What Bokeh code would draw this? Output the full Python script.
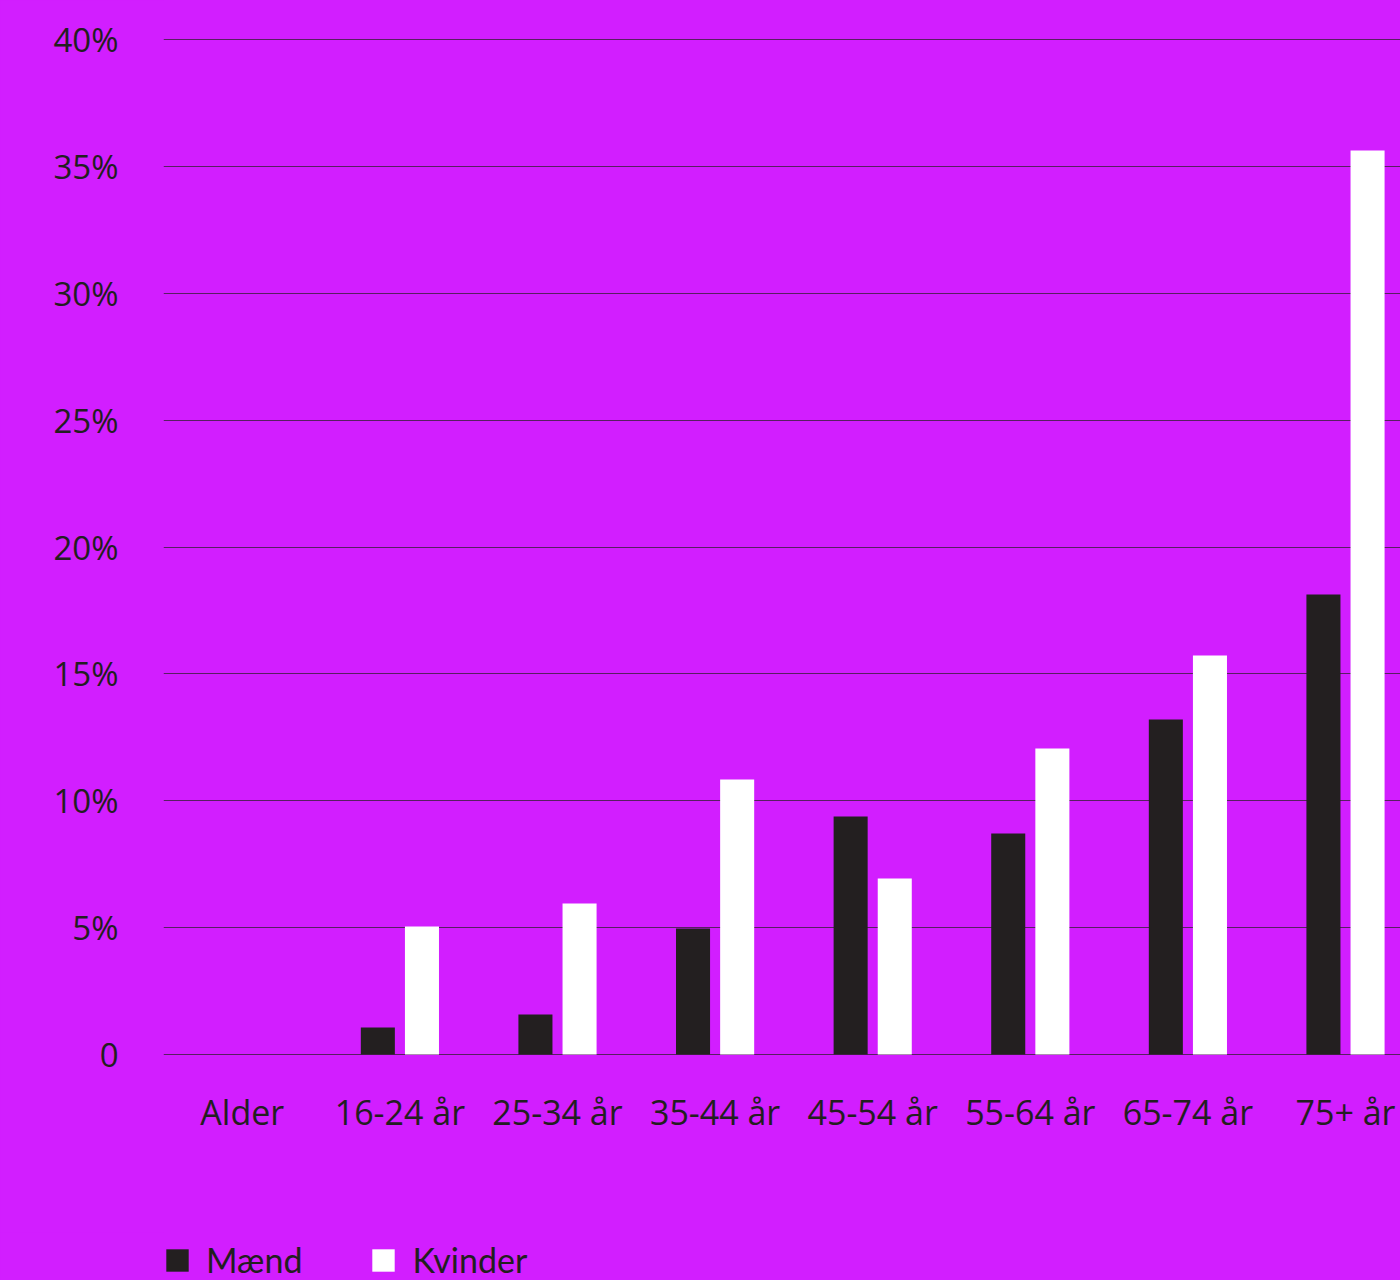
from bokeh.plotting import figure
from bokeh.layouts import column
from bokeh.models import ColumnDataSource, Range1d, FixedTicker, Legend, LegendItem
from bokeh.embed import file_html
from bokeh.resources import INLINE

# ---- data ----
categories = ["Alder", "16-24 år", "25-34 år", "35-44 år", "45-54 år", "55-64 år", "65-74 år", "75+ år"]
maend = [None, 1.06, 1.58, 4.97, 9.38, 8.71, 13.2, 18.13]
kvinder = [None, 5.04, 5.95, 10.84, 6.94, 12.06, 15.72, 35.63]
y_ticks = [0, 5, 10, 15, 20, 25, 30, 35, 40]
y_labels = ["0", "5%", "10%", "15%", "20%", "25%", "30%", "35%", "40%"]
series_names = ["Mænd", "Kvinder"]

BG = "#D21EFF"
DARK = "#231F20"
FONT = "Open Sans"
COLORS = [DARK, "white"]

pos = [i for i, v in enumerate(maend) if v is not None]
src = ColumnDataSource(data=dict(
    xm=[i - 0.14 for i in pos],
    xk=[i + 0.14 for i in pos],
    m=[maend[i] for i in pos],
    k=[kvinder[i] for i in pos],
))

MAIN_H = 1232
LEFT = 163
p = figure(width=1400, height=MAIN_H, output_backend="svg", toolbar_location=None,
           x_range=Range1d(-0.5, 7.349), y_range=Range1d(-0.197, 41.537),
           min_border_left=LEFT, min_border_right=0, min_border_top=0,
           min_border_bottom=MAIN_H - 1059)
p.background_fill_color = BG
p.border_fill_color = BG
p.outline_line_color = None

p.vbar(x="xm", top="m", bottom=0, width=0.216, source=src, fill_color=COLORS[0], line_color=None)
p.vbar(x="xk", top="k", bottom=0, width=0.216, source=src, fill_color=COLORS[1], line_color=None)

# x axis
p.xaxis.ticker = FixedTicker(ticks=list(range(len(categories))))
p.xaxis.major_label_overrides = {i: c for i, c in enumerate(categories)}
p.xaxis.axis_line_color = None
p.xaxis.major_tick_line_color = None
p.xaxis.minor_tick_line_color = None
p.xaxis.major_tick_out = 0
p.xaxis.minor_tick_out = 0
p.xaxis.major_label_standoff = 29
p.xaxis.major_label_text_font = FONT
p.xaxis.major_label_text_font_size = "34px"
p.xaxis.major_label_text_color = DARK
p.xgrid.visible = False

# y axis
p.yaxis.ticker = FixedTicker(ticks=y_ticks)
p.yaxis.major_label_overrides = {t: l for t, l in zip(y_ticks, y_labels)}
p.yaxis.axis_line_color = None
p.yaxis.major_tick_line_color = None
p.yaxis.minor_tick_line_color = None
p.yaxis.major_tick_out = 0
p.yaxis.minor_tick_out = 0
p.yaxis.major_label_standoff = 45
p.yaxis.major_label_text_font = FONT
p.yaxis.major_label_text_font_size = "33px"
p.yaxis.major_label_text_color = DARK
p.ygrid.ticker = FixedTicker(ticks=y_ticks)
p.ygrid.grid_line_color = DARK
p.ygrid.grid_line_alpha = 0.7
p.ygrid.grid_line_width = 1

# ---- legend strip (separate small figure below) ----
LEG_H = 1280 - MAIN_H
lg = figure(width=1400, height=LEG_H, output_backend="svg", toolbar_location=None,
            x_range=Range1d(0, 1), y_range=Range1d(0, 1),
            min_border_left=LEFT, min_border_right=0, min_border_top=0, min_border_bottom=0)
lg.axis.visible = False
lg.grid.visible = False
lg.background_fill_color = BG
lg.border_fill_color = BG
lg.outline_line_color = None
offscreen = ColumnDataSource(data=dict(x=[-5.0], top=[-5.0]))
lr = [lg.vbar(x="x", top="top", bottom=-6.0, width=0.1, source=offscreen, fill_color=c, line_color=None)
      for c in COLORS]

legend = Legend(items=[LegendItem(label=n, renderers=[r]) for n, r in zip(series_names, lr)],
                location=(0, 0), orientation="horizontal",
                glyph_width=28, glyph_height=28, label_standoff=15, spacing=67,
                padding=0, margin=0, background_fill_alpha=0, border_line_alpha=0,
                label_text_font="Lato", label_text_font_size="34px", label_text_color=DARK)
lg.add_layout(legend)

layout = column(p, lg, spacing=0)
html = file_html(layout, INLINE)
html = html.replace("<head>", "<head><style>html,body{background:%s;}</style>" % BG, 1)
open("out.html", "w").write(html)
